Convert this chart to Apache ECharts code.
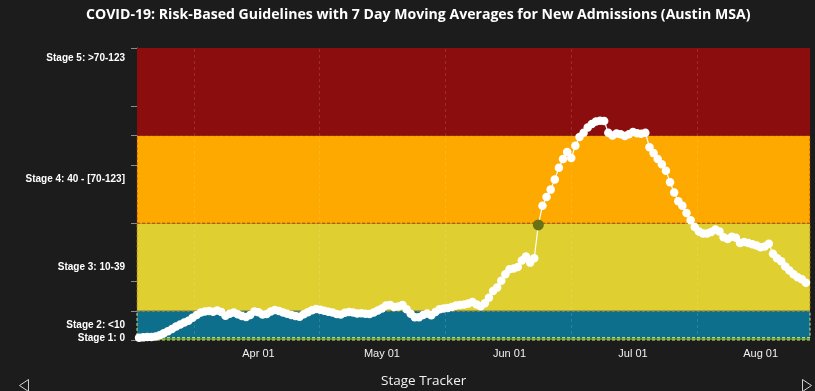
<!DOCTYPE html>
<html>
<head>
<meta charset="utf-8">
<script src="https://cdn.jsdelivr.net/npm/echarts@6/dist/echarts.min.js"></script>
<style>
html,body{margin:0;padding:0;background:#1c1c1c;}
#chart{width:815px;height:391px;}
</style>
</head>
<body>
<div id="chart"></div>
<script>
// ---- DATA ----
const titleText = 'COVID-19: Risk-Based Guidelines with 7 Day Moving Averages for New Admissions (Austin MSA)';
const firstDate = '2020-03-03';
// 7-day moving average of new admissions, one value per day from Mar 03 to Aug 12
const admissions = [
  0.8, 0.9, 1.0, 1.0, 1.2, 1.6, 2.3, 3.0, 3.8, 4.6,
  5.3, 6.0, 6.6, 7.6, 8.6, 9.4, 9.8, 9.9, 9.7, 10.1,
  9.6, 8.3, 9.0, 9.4, 8.8, 8.2, 7.9, 8.6, 9.8, 9.5,
  8.7, 8.9, 9.8, 10.3, 9.9, 9.4, 9.0, 8.6, 8.2, 8.0,
  8.8, 9.5, 10.2, 10.6, 10.4, 10.0, 9.7, 9.4, 8.9, 8.7,
  9.3, 9.6, 9.4, 9.1, 9.2, 9.0, 8.9, 9.4, 10.1, 10.8,
  11.8, 12.0, 11.3, 11.5, 12.0, 10.5, 9.0, 7.8, 7.8, 8.6,
  9.1, 8.5, 9.6, 10.5, 10.8, 11.0, 11.3, 11.8, 12.0, 12.2,
  12.5, 13.0, 12.2, 11.6, 12.6, 14.5, 16.8, 18.0, 20.3, 22.5,
  24.2, 24.5, 25.0, 27.2, 28.6, 26.5, 28.0, 39.4, 46.0, 49.0,
  51.5, 55.0, 59.0, 62.0, 64.4, 62.3, 66.5, 69.5, 71.0, 72.8,
  74.0, 74.8, 75.1, 75.0, 71.0, 70.0, 70.7, 70.5, 69.9, 70.5,
  71.2, 70.8, 70.6, 71.0, 66.0, 64.0, 62.0, 60.2, 58.0, 54.0,
  50.5, 47.5, 46.0, 43.5, 41.0, 38.7, 37.2, 36.5, 36.5, 37.0,
  37.8, 37.2, 35.2, 34.6, 35.4, 35.0, 33.2, 33.6, 33.2, 32.8,
  32.4, 31.8, 32.0, 33.0, 29.5, 28.0, 27.0, 25.2, 23.8, 22.5,
  21.5, 20.8, 19.6
];
const highlightIndex = 97; // Jun 08 point shown highlighted
// Stage bands (y ranges)
const bandNames  = ['Stage 1', 'Stage 2', 'Stage 3', 'Stage 4', 'Stage 5'];
const bandLower  = [0, 0.8, 10, 40, 70];
const bandUpper  = [0.8, 10, 40, 70, 100];
// Y axis labels and where they sit
const stageLabels      = ['Stage 1: 0', 'Stage 2: <10', 'Stage 3: 10-39', 'Stage 4: 40 - [70-123]', 'Stage 5: >70-123'];
const stageLabelValues = [0.5, 5, 25, 55, 96.5];
const yTickValues      = [0, 10, 20, 40, 60, 70, 80, 100];
// X axis labels
const xTickDates  = ['2020-04-01', '2020-05-01', '2020-06-01', '2020-07-01', '2020-08-01'];
const xTickLabels = ['Apr 01', 'May 01', 'Jun 01', 'Jul 01', 'Aug 01'];
const gridDates   = ['2020-03-16T12:00:00', '2020-04-15T18:00:00', '2020-05-16T12:00:00', '2020-06-16T00:00:00', '2020-07-16T12:00:00'];
const xMin = '2020-03-02T12:00:00';
const xMax = '2020-08-13T00:00:00';
const bottomLabel = 'Stage Tracker';

// ---- STYLES ----
const bandColors  = ['#4b8b2c', '#0e6f8c', '#dfcf31', '#fea900', '#8b0d0d'];
const bandBorders = ['rgba(230,240,120,0.9)', 'rgba(235,240,150,0.9)', 'rgba(170,120,20,0.8)', 'rgba(150,40,10,0.7)', 'rgba(0,0,0,0)'];

// ---- BUILD ----
const DAY = 86400000;
const ts = (s) => new Date(s.length <= 10 ? s + 'T00:00:00' : s).getTime();
const t0 = ts(firstDate);
const seriesData = admissions.map((v, i) => {
  const item = { value: [t0 + i * DAY, v] };
  if (i === highlightIndex) {
    item.itemStyle = { color: '#6a7016' };
    item.symbolSize = 11;
  }
  return item;
});
const xTickTimes = xTickDates.map(ts);

const markAreaData = bandNames.map((n, i) => [
  { name: n, yAxis: bandLower[i], itemStyle: { color: bandColors[i], borderColor: bandBorders[i], borderWidth: 1, borderType: [3, 2] } },
  { yAxis: bandUpper[i] }
]);

const chart = echarts.init(document.getElementById('chart'), null, { renderer: 'canvas' });
chart.setOption({
  backgroundColor: '#1c1c1c',
  animation: false,
  title: {
    text: titleText,
    left: 81,
    top: 3,
    textStyle: { color: '#ffffff', fontFamily: 'Open Sans', fontWeight: 'bold', fontSize: 14.1 }
  },
  grid: { left: 137, right: 5, top: 48, bottom: 51 },
  xAxis: {
    type: 'value',
    min: ts(xMin),
    max: ts(xMax),
    axisLine: { show: false },
    axisTick: { show: false },
    splitLine: { show: false },
    axisLabel: {
      customValues: xTickTimes,
      color: '#f0f0f0',
      fontFamily: 'Liberation Sans',
      fontSize: 11,
      margin: 8,
      formatter: (v) => {
        const k = xTickTimes.indexOf(v);
        return k >= 0 ? xTickLabels[k] : '';
      }
    }
  },
  yAxis: {
    type: 'value',
    min: 0,
    max: 100,
    interval: 20,
    axisLine: { show: true, lineStyle: { color: '#8a8a8a', width: 1 } },
    axisTick: { show: true, customValues: yTickValues, length: 6, lineStyle: { color: '#8a8a8a' } },
    splitLine: { show: false },
    axisLabel: {
      customValues: stageLabelValues,
      color: '#ffffff',
      fontFamily: 'Liberation Sans',
      fontWeight: 'bold',
      fontSize: 10,
      margin: 12,
      formatter: (v) => {
        const k = stageLabelValues.indexOf(v);
        return k >= 0 ? stageLabels[k] : '';
      }
    }
  },
  series: [{
    type: 'line',
    data: seriesData,
    symbol: 'circle',
    symbolSize: 8.5,
    showSymbol: true,
    clip: true,
    itemStyle: { color: '#ffffff' },
    lineStyle: { color: '#ffffff', width: 1.2 },
    z: 5,
    markArea: {
      silent: true,
      label: { show: false },
      data: markAreaData
    },
    markLine: {
      silent: true,
      symbol: 'none',
      label: { show: false },
      lineStyle: { color: 'rgba(255,255,255,0.13)', type: [3, 3], width: 1 },
      data: gridDates.map(d => ({ xAxis: ts(d) }))
    }
  }],
  graphic: [
    {
      type: 'text', left: 381, top: 374,
      style: { text: bottomLabel, fill: '#f2f2f2', font: '13.5px "Open Sans"' }
    },
    {
      type: 'polygon', left: 17, top: 377,
      shape: { points: [[9, 0], [0, 6], [9, 12]] },
      style: { fill: 'none', stroke: '#cfcfcf', lineWidth: 1 }
    },
    {
      type: 'polygon', left: 800, top: 377,
      shape: { points: [[0, 0], [9, 6], [0, 12]] },
      style: { fill: 'none', stroke: '#cfcfcf', lineWidth: 1 }
    }
  ]
});
</script>
</body>
</html>
